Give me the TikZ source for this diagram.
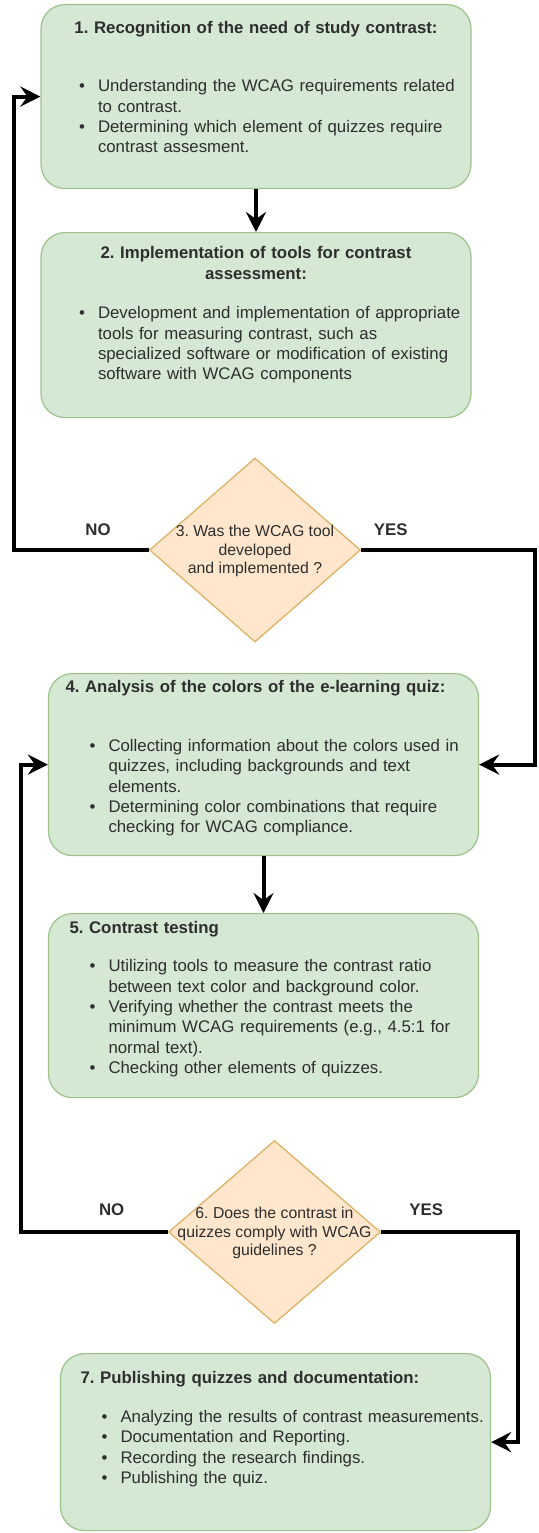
\documentclass[tikz,border=0pt]{standalone}
\usepackage{fontspec}
\setmainfont{Liberation Sans}
\usepackage{enumitem}
\usetikzlibrary{shapes.geometric,arrows.meta}

\definecolor{stagefill}{HTML}{D5E8D4}
\definecolor{stageline}{HTML}{9CC18B}
\definecolor{askfill}{HTML}{FFE6CC}
\definecolor{askline}{HTML}{DDAE5E}
\definecolor{inkcol}{HTML}{2E2E2E}

\setlist[itemize]{label=\textbullet, leftmargin=43pt, labelsep=13pt, topsep=0pt,
  partopsep=0pt, itemsep=0pt, parsep=0pt, rightmargin=-17pt}
\frenchspacing

\begin{document}
\begin{tikzpicture}[x=1pt, y=-1pt,
  stage/.style={draw=stageline, fill=stagefill, line width=1.2pt, rounded corners=24pt,
    anchor=north, inner xsep=17pt, inner ysep=0pt, text width=396pt, align=left,
    text=inkcol, font=\fontsize{16.8}{20.4}\selectfont},
  ask/.style={diamond, draw=askline, fill=askfill, line width=1.2pt, inner sep=0pt,
    minimum width=211pt, minimum height=184pt, text=inkcol,
    font=\fontsize{15.8}{18.2}\selectfont},
  flow/.style={line width=4pt, -{Stealth[length=20pt,width=20pt,inset=7pt]}},
  answer/.style={font=\fontsize{16.8}{20}\selectfont\bfseries, text=inkcol, inner sep=0pt}]
\useasboundingbox (0,0) rectangle (538,1533);

% Stages
\node[stage, minimum height=184pt] (recog) at (256,4) {%
  {\centering\bfseries 1. Recognition of the need of study contrast:\par}
  \vspace{38pt}
  \begin{itemize}[leftmargin=40pt]
    \item Understanding the WCAG requirements related\newline to contrast.
    \item Determining which element of quizzes require\newline contrast assesment.
  \end{itemize}
  \vspace*{19pt}};
\node[stage, minimum height=185pt] (tools) at (256,232) {%
  {\centering\bfseries 2. Implementation of tools for contrast\\ assessment:\par}
  \vspace{19pt}
  \begin{itemize}[leftmargin=40pt]
    \item Development and implementation of appropriate\newline tools for measuring contrast, such as\newline specialized software or modification of existing\newline software with WCAG components
  \end{itemize}
  \vspace*{20pt}};

% Decision 3
\node[ask] (toolq) at (255,550) {\makebox[0pt]{\smash{\raisebox{-5pt}{%
  \begin{tabular}{@{}c@{}}3. Was the WCAG tool\\ developed\\ and implemented ?\end{tabular}}}}};

\node[stage, minimum height=182pt] (colors) at (263.5,673) {%
  {\bfseries 4. Analysis of the colors of the e-learning quiz:\par}
  \vspace{38pt}
  \begin{itemize}
    \item Collecting information about the colors used in\newline quizzes, including backgrounds and text\newline elements.
    \item Determining color combinations that require\newline checking for WCAG compliance.
  \end{itemize}
  \vspace*{12pt}};
\node[stage, minimum height=184pt] (testing) at (263.5,913) {%
  {\bfseries\hspace*{4pt}5. Contrast testing\par}
  \vspace{18pt}
  \begin{itemize}
    \item Utilizing tools to measure the contrast ratio\newline between text color and background color.
    \item Verifying whether the contrast meets the\newline minimum WCAG requirements (e.g., 4.5:1 for\newline normal text).
    \item Checking other elements of quizzes.
  \end{itemize}
  \vspace*{13pt}};

% Decision 6
\node[ask, minimum width=212pt, minimum height=183pt] (complyq) at (274.5,1232) {\makebox[0pt]{\smash{\raisebox{-5pt}{%
  \begin{tabular}{@{}c@{}}6. Does the contrast in\\ quizzes comply with WCAG\\ guidelines ?\end{tabular}}}}};

\node[stage, minimum height=177pt] (publish) at (275.5,1353) {%
  {\bfseries\hspace*{3pt}7. Publishing quizzes and documentation:\par}
  \vspace{19pt}
  \begin{itemize}
    \item Analyzing the results of contrast measurements.
    \item Documentation and Reporting.
    \item Recording the research findings.
    \item Publishing the quiz.
  \end{itemize}
  \vspace*{26pt}};

% Turning points
\coordinate (noturn1) at (13.5,550);
\coordinate (yesturn1) at (535,550);
\coordinate (noturn2) at (21,1232);
\coordinate (yesturn2) at (518,1232);

% Connectors
\draw[flow] (recog.south) -- (tools.north);
\draw[flow] (colors.south) -- (testing.north);
\draw[flow] (toolq.west) -- node[answer, pos=0.376, above=12pt] (no1) {NO} (noturn1) |- (recog.west);
\draw[flow] (toolq.east) -- node[answer, pos=0.17, above=12pt] (yes1) {YES} (yesturn1) |- (colors.east);
\draw[flow] (complyq.west) -- node[answer, pos=0.383, above=14pt] (no2) {NO} (noturn2) |- (colors.west);
\draw[flow] (complyq.east) -- node[answer, pos=0.33, above=14pt] (yes2) {YES} (yesturn2) |- (publish.east);
\end{tikzpicture}
\end{document}
